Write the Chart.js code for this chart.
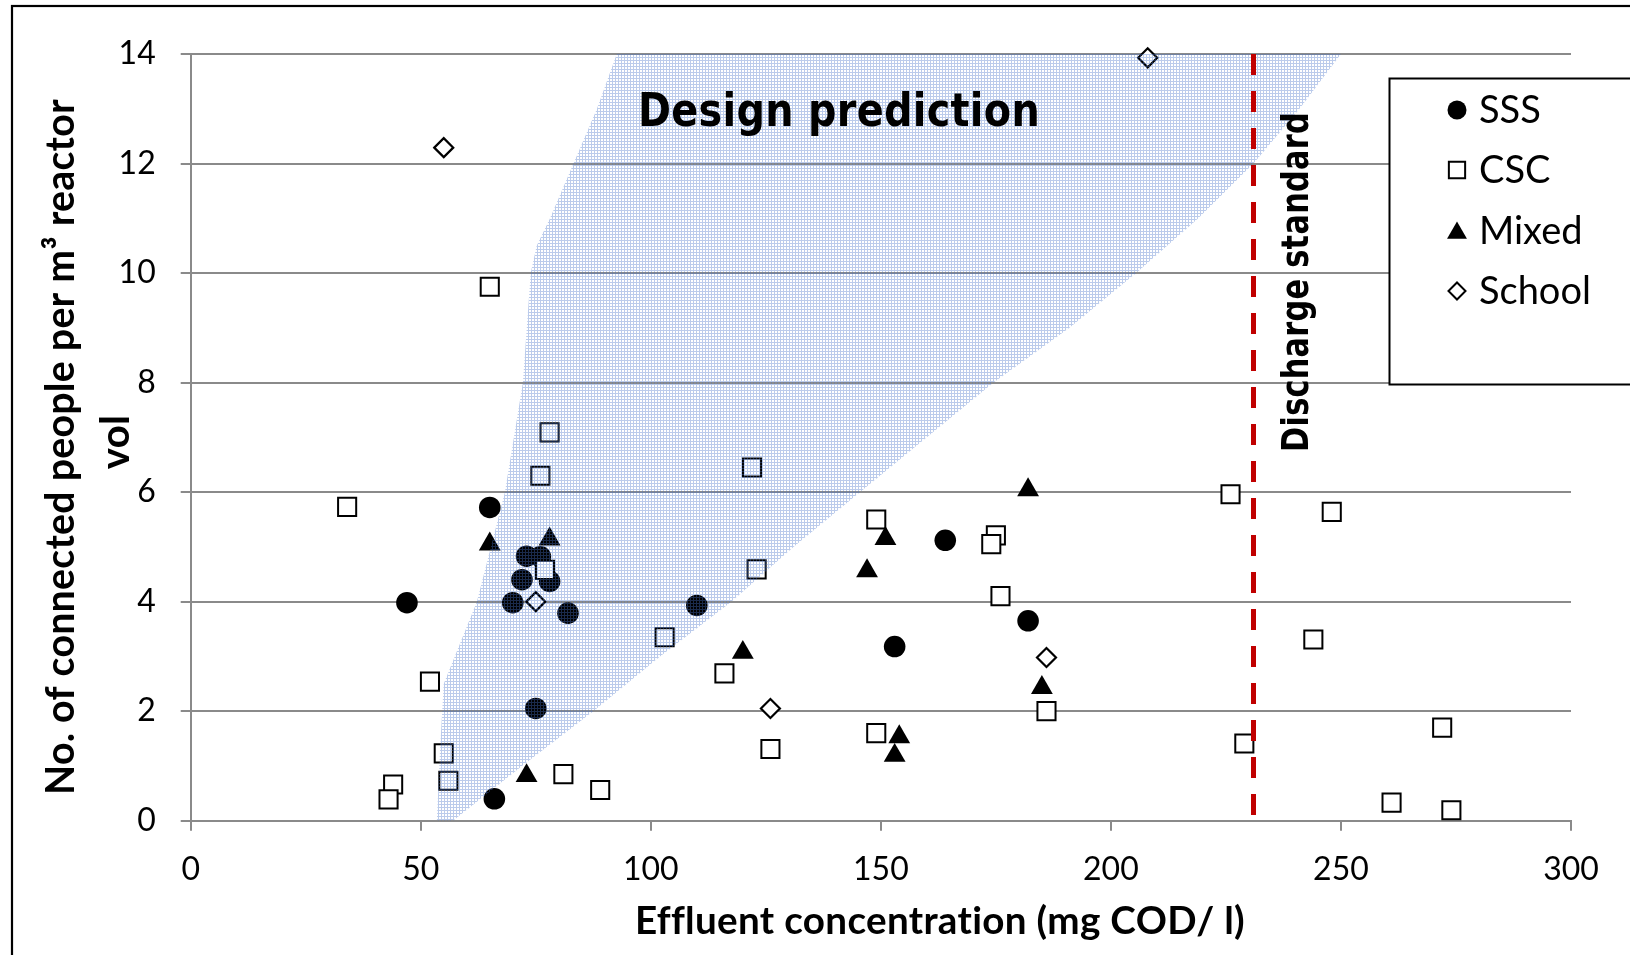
<!DOCTYPE html>
<html>
<head>
<meta charset="utf-8">
<script src="https://cdn.jsdelivr.net/npm/chart.js@4.4.1/dist/chart.umd.min.js"></script>
<style>
  html, body { margin: 0; padding: 0; background: #ffffff; }
  #wrap { position: relative; width: 1630px; height: 955px; }
  canvas { display: block; }
</style>
</head>
<body>
<div id="wrap"><canvas id="chart" width="1630" height="955"></canvas></div>
<script>
// ---------------- data ----------------
const xTicks = [0, 50, 100, 150, 200, 250, 300];
const yTicks = [0, 2, 4, 6, 8, 10, 12, 14];

const seriesNames = ['SSS', 'CSC', 'Mixed', 'School'];

const sssX = [65, 73, 76, 72, 78, 70, 82, 47, 75, 66, 110, 164, 182, 153];
const sssY = [5.72, 4.83, 4.82, 4.40, 4.37, 3.98, 3.79, 3.98, 2.05, 0.40, 3.93, 5.12, 3.65, 3.18];

const cscX = [34, 44, 43, 52, 55, 56, 65, 76, 77, 78, 81, 89, 103, 116, 122, 123, 126, 149, 149, 175, 174, 176, 186, 226, 229, 244, 248, 261, 272, 274];
const cscY = [5.73, 0.66, 0.39, 2.54, 1.23, 0.73, 9.75, 6.30, 4.58, 7.09, 0.85, 0.56, 3.35, 2.69, 6.45, 4.59, 1.31, 5.50, 1.60, 5.21, 5.05, 4.10, 2.00, 5.96, 1.41, 3.31, 5.64, 0.33, 1.70, 0.19];

const mixedX = [65, 78, 73, 120, 151, 147, 182, 185, 154, 153];
const mixedY = [5.05, 5.14, 0.82, 3.07, 5.15, 4.56, 6.04, 2.43, 1.53, 1.19];

const schoolX = [55, 75, 126, 186, 208];
const schoolY = [12.29, 4.00, 2.05, 2.98, 13.93];

// design prediction band (left edge bottom->top, right edge bottom->top)
const designLeftX  = [53.5, 54.2, 55, 62.2, 68.3, 72.2, 73.9, 75.2, 78.1, 83.2, 88.3, 92.6];
const designLeftY  = [0, 1.3, 2.5, 4, 6, 8, 10, 10.5, 11, 12, 13, 14];
const designRightX = [57, 72, 87.5, 102, 117.5, 131, 145.5, 160, 174.5, 191, 205.5, 219, 231, 241, 250];
const designRightY = [0, 1, 2, 3, 4, 5, 6, 7, 8, 9, 10, 11, 12, 13, 14];

// discharge standard (vertical line)
const dischargeX = [231, 231];
const dischargeY = [14, 0];

const designLabel = 'Design prediction';
const dischargeLabel = 'Discharge standard';
const xTitle = 'Effluent concentration (mg COD/ l)';
const yTitle = ['No. of connected people per m\u00B3 reactor', 'vol'];

// ---------------- helpers ----------------
const toPts = (xs, ys) => xs.map((x, i) => ({ x: x, y: ys[i] }));
const polygon = toPts(designLeftX, designLeftY)
  .concat(toPts(designRightX, designRightY).reverse());
polygon.push({ x: designLeftX[0], y: designLeftY[0] });

function makePattern(ctx) {
  const pc = document.createElement('canvas');
  pc.width = 3; pc.height = 3;
  const p = pc.getContext('2d');
  p.fillStyle = 'rgba(70,115,200,0.37)';
  p.fillRect(0, 0, 3, 1);
  p.fillRect(0, 1, 1, 2);
  return ctx.createPattern(pc, 'repeat');
}

function fitText(ctx, text, x, y, width, font, rot) {
  ctx.save();
  ctx.font = font;
  if ('letterSpacing' in ctx) ctx.letterSpacing = '0.3px';
  ctx.translate(x, y);
  ctx.rotate(rot || 0);
  const w = ctx.measureText(text).width;
  if (width) ctx.scale(width / w, 1);
  ctx.textAlign = 'center';
  ctx.textBaseline = 'alphabetic';
  ctx.fillStyle = '#000';
  ctx.fillText(text, 0, 0);
  ctx.restore();
}

function drawMarker(ctx, style, x, y, r, fill, stroke, lw) {
  ctx.save();
  ctx.beginPath();
  if (style === 'circle') {
    ctx.arc(x, y, r, 0, Math.PI * 2);
  } else if (style === 'rect') {
    const s = r * Math.SQRT1_2;
    ctx.rect(x - s, y - s, 2 * s, 2 * s);
  } else if (style === 'triangle') {
    let a = 0;
    ctx.moveTo(x + Math.sin(a) * r, y - Math.cos(a) * r);
    a += 2 * Math.PI / 3;
    ctx.lineTo(x + Math.sin(a) * r, y - Math.cos(a) * r);
    a += 2 * Math.PI / 3;
    ctx.lineTo(x + Math.sin(a) * r, y - Math.cos(a) * r);
    ctx.closePath();
  } else if (style === 'rectRot') {
    ctx.moveTo(x - r, y); ctx.lineTo(x, y - r); ctx.lineTo(x + r, y); ctx.lineTo(x, y + r);
    ctx.closePath();
  }
  ctx.fillStyle = fill; ctx.fill();
  if (lw > 0) { ctx.lineWidth = lw; ctx.strokeStyle = stroke; ctx.stroke(); }
  ctx.restore();
}

const decorPlugin = {
  id: 'decor',
  beforeDraw(chart) {
    const ctx = chart.ctx;
    ctx.save();
    ctx.fillStyle = '#ffffff';
    ctx.fillRect(0, 0, chart.width, chart.height);
    ctx.restore();
  },
  afterDraw(chart) {
    const ctx = chart.ctx;
    // outer frame
    ctx.save();
    ctx.strokeStyle = '#000';
    ctx.lineWidth = 2.2;
    ctx.strokeRect(12, 6, 1700, 1100);
    ctx.restore();

    // annotations
    fitText(ctx, designLabel, 839, 126, 402, 'bold 46px "DejaVu Sans Condensed", "DejaVu Sans"', 0);
    fitText(ctx, dischargeLabel, 1308, 282, 340, 'bold 38px "DejaVu Sans Condensed", "DejaVu Sans"', -Math.PI / 2);

    // axis titles
    fitText(ctx, xTitle, 940, 934, 610, 'bold 38px Lato', 0);
    fitText(ctx, yTitle[0], 74, 447, 696, 'bold 40px Lato', -Math.PI / 2);
    fitText(ctx, yTitle[1], 129, 442, null, 'bold 40px Lato', -Math.PI / 2);

    // legend
    ctx.save();
    ctx.fillStyle = '#fff';
    ctx.fillRect(1389, 78, 400, 306);
    ctx.strokeStyle = '#000';
    ctx.lineWidth = 2;
    ctx.strokeRect(1389.5, 78.5, 400, 306);
    ctx.restore();
    const rows = [110, 170, 231, 291];
    const styles = [
      ['circle', 9.5, '#000', '#000', 0],
      ['rect', 11.5, '#fff', '#000', 2],
      ['triangle', 11.5, '#000', '#000', 0],
      ['rectRot', 8.5, '#fff', '#000', 2]
    ];
    seriesNames.forEach((name, i) => {
      const s = styles[i];
      drawMarker(ctx, s[0], 1457, rows[i] + (s[0] === 'triangle' ? 2 : 0), s[1], s[2], s[3], s[4]);
      ctx.save();
      ctx.font = '38px Lato';
      ctx.fillStyle = '#000';
      ctx.textAlign = 'left';
      ctx.textBaseline = 'middle';
      ctx.fillText(name, 1479, rows[i] + 1);
      ctx.restore();
    });
  }
};

function build() {
  const canvas = document.getElementById('chart');
  const ctx = canvas.getContext('2d');
  const pattern = makePattern(ctx);
  const gridColor = '#8a8a8a';

  new Chart(ctx, {
    type: 'scatter',
    data: {
      datasets: [
        {
          type: 'line',
          label: dischargeLabel,
          data: toPts(dischargeX, dischargeY),
          borderColor: '#c00000',
          borderWidth: 5,
          borderDash: [21, 16],
          pointRadius: 0,
          fill: false,
          tension: 0,
          order: -2
        },
        {
          type: 'line',
          label: designLabel,
          data: polygon,
          borderColor: 'rgba(0,0,0,0)',
          borderWidth: 0,
          backgroundColor: pattern,
          fill: 'shape',
          pointRadius: 0,
          tension: 0,
          order: -1
        },
        {
          label: seriesNames[0],
          data: toPts(sssX, sssY),
          pointStyle: 'circle',
          pointRadius: 10.8,
          backgroundColor: '#000',
          borderColor: '#000',
          borderWidth: 0,
          clip: false,
          order: 4
        },
        {
          label: seriesNames[1],
          data: toPts(cscX, cscY),
          pointStyle: 'rect',
          pointRadius: 12.8,
          backgroundColor: '#fff',
          borderColor: '#000',
          borderWidth: 2,
          clip: false,
          order: 3
        },
        {
          label: seriesNames[2],
          data: toPts(mixedX, mixedY),
          pointStyle: 'triangle',
          pointRadius: 12.6,
          backgroundColor: '#000',
          borderColor: '#000',
          borderWidth: 0,
          clip: false,
          order: 2
        },
        {
          label: seriesNames[3],
          data: toPts(schoolX, schoolY),
          pointStyle: 'rectRot',
          pointRadius: 9.5,
          backgroundColor: '#fff',
          borderColor: '#000',
          borderWidth: 2.2,
          clip: false,
          order: 1
        }
      ]
    },
    options: {
      responsive: false,
      animation: false,
      devicePixelRatio: 1,
      events: [],
      layout: { padding: { top: 54, right: 59, left: 0, bottom: 0 } },
      plugins: {
        legend: { display: false },
        tooltip: { enabled: false },
        title: { display: false }
      },
      scales: {
        x: {
          type: 'linear',
          min: 0, max: 300,
          afterBuildTicks: (s) => { s.ticks = xTicks.map(v => ({ value: v })); },
          afterFit: (s) => { s.height = 134.3; },
          grid: { drawOnChartArea: false, drawTicks: true, tickLength: 10, color: gridColor, lineWidth: 2 },
          border: { color: gridColor, width: 2 },
          ticks: { font: { family: 'Lato', size: 32 }, color: '#000', padding: 20, maxRotation: 0 },
          title: { display: false }
        },
        y: {
          type: 'linear',
          min: 0, max: 14,
          afterBuildTicks: (s) => { s.ticks = yTicks.map(v => ({ value: v })); },
          afterFit: (s) => { s.width = 190.7; },
          grid: { drawTicks: true, tickLength: 10, color: gridColor, lineWidth: 2 },
          border: { color: gridColor, width: 2 },
          ticks: { font: { family: 'Lato', size: 32 }, color: '#000', padding: 25 },
          title: { display: false }
        }
      }
    },
    plugins: [decorPlugin]
  });
}

const fontLoads = [
  '32px Lato', 'bold 38px Lato', 'bold 46px "DejaVu Sans Condensed"'
].map(f => (document.fonts && document.fonts.load) ? document.fonts.load(f).catch(() => null) : Promise.resolve());
Promise.all(fontLoads).then(build, build);
</script>
</body>
</html>
